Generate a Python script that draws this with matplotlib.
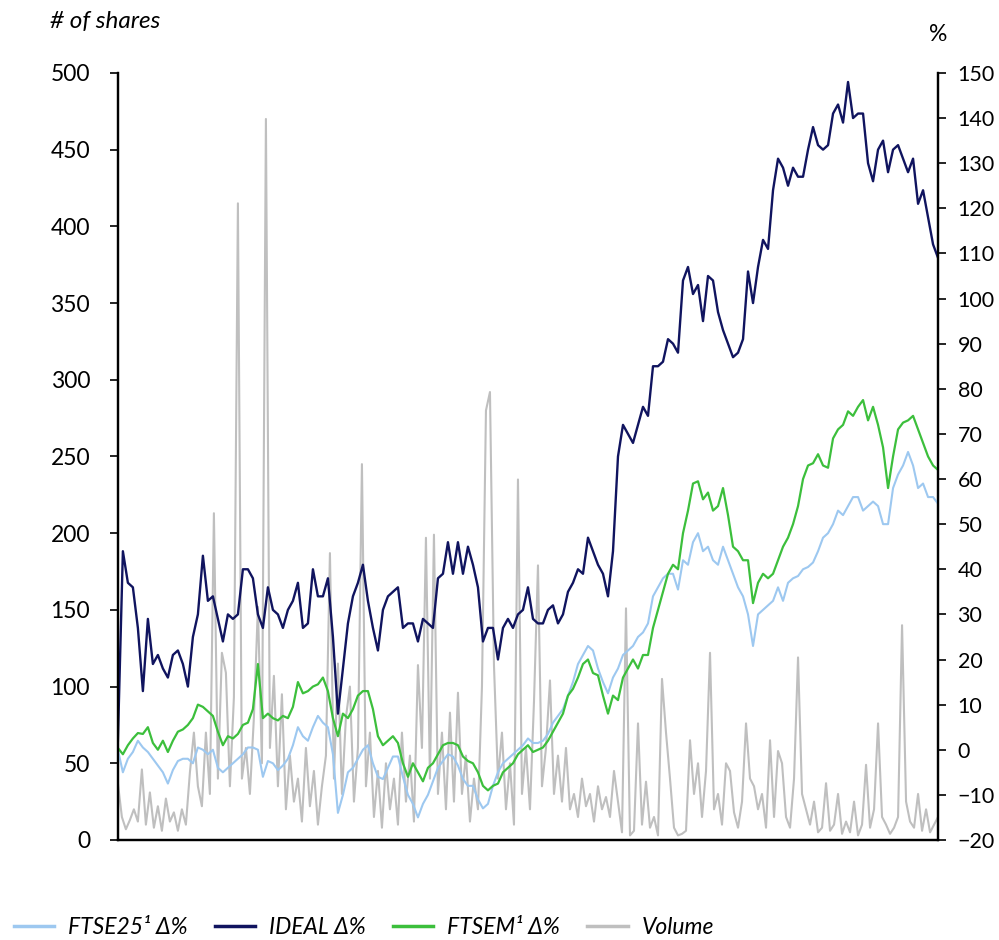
import numpy as np
import matplotlib
matplotlib.use("Agg")
import matplotlib.pyplot as plt

plt.rcParams['font.family'] = ['Lato', 'DejaVu Sans']

# daily series (evenly spaced over the period)
ideal = [2, 44, 37, 36, 27, 13, 29, 19, 21, 18, 16, 21, 22, 19, 14, 25, 30, 43, 33, 34,
         29, 24, 30, 29, 30, 40, 40, 38, 30, 27, 36, 31, 30, 27, 31, 33, 37, 27, 28, 40,
         34, 34, 38, 25, 8, 18, 28, 34, 37, 41, 33, 27, 22, 31, 34, 35, 36, 27, 28, 28,
         24, 29, 28, 27, 38, 39, 46, 39, 46, 39, 45, 41, 36, 24, 27, 27, 20, 27, 29, 27,
         30, 31, 36, 29, 28, 28, 31, 32, 28, 30, 35, 37, 40, 39, 47, 44, 41, 39, 34, 44,
         65, 72, 70, 68, 72, 76, 74, 85, 85, 86, 91, 90, 88, 104, 107, 101, 103, 95, 105, 104,
         97, 93, 90, 87, 88, 91, 106, 99, 107, 113, 111, 124, 131, 129, 125, 129, 127, 127, 133, 138,
         134, 133, 134, 141, 143, 139, 148, 140, 141, 141, 130, 126, 133, 135, 128, 133, 134, 131, 128, 131,
         121, 124, 118, 112, 109]

ftsem = [0.4, -1, 1, 2.5, 3.7, 3.5, 5, 1.5, 0, 2, -0.5, 2, 4, 4.5, 5.5, 7, 10, 9.5, 8.5, 7.5,
         4, 1, 3, 2.5, 3.5, 5.5, 6, 9, 19, 7, 8, 7, 6.5, 7.5, 7, 9.5, 15, 12.5, 13, 14,
         14.5, 16, 13, 7, 3, 8, 7, 9, 12, 13, 13, 9, 3, 1, 2, 3, 1.5, -3, -6, -3,
         -5, -7, -4, -3, -1, 1, 1.5, 1.5, 1, -1.5, -2.5, -3, -5, -8, -9, -8, -7.5, -5, -4, -3,
         -1, 0, 1, -0.5, 0, 0.5, 2, 4, 6, 8, 12, 13.5, 16, 19, 20, 17, 16.5, 12, 8, 12,
         11, 16, 18, 20, 18, 21, 21, 27, 31, 35, 39, 41, 40, 48, 53, 59, 59.5, 55.5, 57, 53,
         54, 58, 52, 45, 44, 42, 42, 32.5, 37, 39, 38, 39, 42, 45, 47, 50, 54, 60, 63, 63.5,
         65.5, 63, 62.5, 69, 71, 72, 75, 74, 76, 77.5, 73, 76, 72, 67, 58, 65, 71, 72.5, 73, 74,
         71, 68, 65, 63, 62]

ftse25 = [0, -5, -2, -0.5, 2, 0.5, -0.5, -2, -3.5, -5, -7.5, -4.5, -2.5, -2, -2, -3, 0.5, 0, -1, 0,
          -4, -5, -4, -3, -2, -1, 0.5, 0.5, 0, -6, -2.5, -3, -4.5, -3.5, -2, 1, 5, 3, 2, 5,
          7.5, 6, 5, -1, -14, -10, -5, -4, -2, 0, 1, -3, -6, -6.5, -4, -1.5, -1.5, -6, -10, -12,
          -15, -12, -10, -7, -4, -2.5, -1, -1.5, -3.5, -6.5, -8, -8, -11, -13, -12, -8, -5, -3, -2, -1,
          0, 1, 2.5, 1.5, 1.5, 2, 3.5, 6, 7.5, 9, 12, 15, 19, 21, 23, 22, 18, 15, 12.5, 16,
          18, 21, 22, 23, 25, 26, 28, 34, 36, 38, 39, 39, 35.5, 42, 41, 46, 48, 44, 45, 42,
          41, 45, 42, 39, 36, 34, 30, 23, 30, 31, 32, 33, 36, 33, 37, 38, 38.5, 40, 40.5, 41.5,
          44, 47, 48, 50, 53, 52, 54, 56, 56, 53, 54, 55, 54, 50, 50, 58, 61, 63, 66, 63,
          58, 59, 56, 56, 54.5]

volume = [37, 15, 7, 13, 20, 12, 46, 10, 31, 8, 22, 6, 27, 12, 18, 6, 20, 10, 44, 70,
          35, 22, 70, 30, 213, 40, 122, 109, 35, 93, 415, 40, 60, 30, 80, 152, 50, 470, 60, 107,
          35, 95, 20, 55, 25, 40, 12, 60, 22, 45, 10, 35, 55, 187, 40, 115, 30, 80, 100, 25,
          60, 245, 35, 70, 15, 45, 8, 50, 20, 40, 10, 70, 25, 55, 12, 114, 60, 197, 40, 199,
          30, 70, 20, 83, 25, 96, 30, 55, 12, 40, 20, 100, 280, 292, 114, 40, 70, 20, 50, 10,
          235, 30, 60, 20, 90, 179, 35, 60, 104, 30, 55, 25, 60, 20, 30, 15, 40, 22, 30, 12,
          35, 20, 28, 15, 45, 25, 5, 151, 3, 6, 76, 10, 38, 8, 15, 3, 105, 70, 40, 8,
          3, 4, 6, 65, 30, 50, 15, 45, 122, 20, 30, 10, 50, 45, 18, 8, 25, 76, 40, 35,
          20, 30, 8, 65, 15, 58, 50, 15, 8, 40, 119, 30, 20, 10, 25, 5, 8, 37, 6, 10,
          30, 4, 12, 5, 25, 3, 10, 49, 8, 20, 76, 15, 10, 4, 8, 15, 140, 25, 12, 8,
          30, 6, 20, 5, 10, 15]

c_ftse25 = '#9DC8F0'
c_ideal = '#10145F'
c_ftsem = '#3CBF3C'
c_vol = '#BFBFBF'

fig = plt.figure(figsize=(9.99, 9.4), dpi=100)
ax = fig.add_axes([0.118, 0.1064, 0.821, 0.816])
ax2 = ax.twinx()

x_vol = np.linspace(0, 1, len(volume))
x_line = np.linspace(0, 1, len(ideal))

ax.plot(x_vol, volume, color=c_vol, lw=1.5)
ax2.plot(x_line, ftse25, color=c_ftse25, lw=1.5)
ax2.plot(x_line, ideal, color=c_ideal, lw=1.7)
ax2.plot(x_line, ftsem, color=c_ftsem, lw=1.6)

# legend handles (thicker than the plotted lines, as in the original)
h_ftse25 = plt.Line2D([], [], color=c_ftse25, lw=2.5)
h_ideal = plt.Line2D([], [], color=c_ideal, lw=2.5)
h_ftsem = plt.Line2D([], [], color=c_ftsem, lw=2.5)
h_vol = plt.Line2D([], [], color=c_vol, lw=2.5)

ax.set_xlim(0, 1)
ax.set_ylim(0, 500)
ax2.set_ylim(-20, 150)
ax.set_yticks(np.arange(0, 501, 50))
ax2.set_yticks(np.arange(-20, 151, 10))
ax.set_xticks([])

for a in (ax, ax2):
    a.spines['top'].set_visible(False)
    for s in ('left', 'right', 'bottom'):
        a.spines[s].set_linewidth(1.6)
ax.tick_params(axis='y', direction='out', length=6, width=1.2, pad=14, labelsize=16.5)
ax2.tick_params(axis='y', direction='out', length=6, width=1.2, pad=8, labelsize=15.5)

fig.text(0.05, 0.9766, '# of shares', style='italic', fontsize=17.5, va='center', ha='left')
fig.text(0.939, 0.9628, '%', fontsize=16.5, va='center', ha='center')

fig.legend([h_ftse25, h_ideal, h_ftsem, h_vol],
           ['FTSE25\u00b9 \u0394%', 'IDEAL \u0394%', 'FTSEM\u00b9 \u0394%', 'Volume'],
           loc='center left', bbox_to_anchor=(0.005, 1 - 928 / 940), ncol=4, frameon=False,
           prop={'style': 'italic', 'size': 16.5}, handlelength=1.75, handletextpad=0.6,
           columnspacing=1.2, borderaxespad=0)

fig.savefig('out.png', dpi=100)
